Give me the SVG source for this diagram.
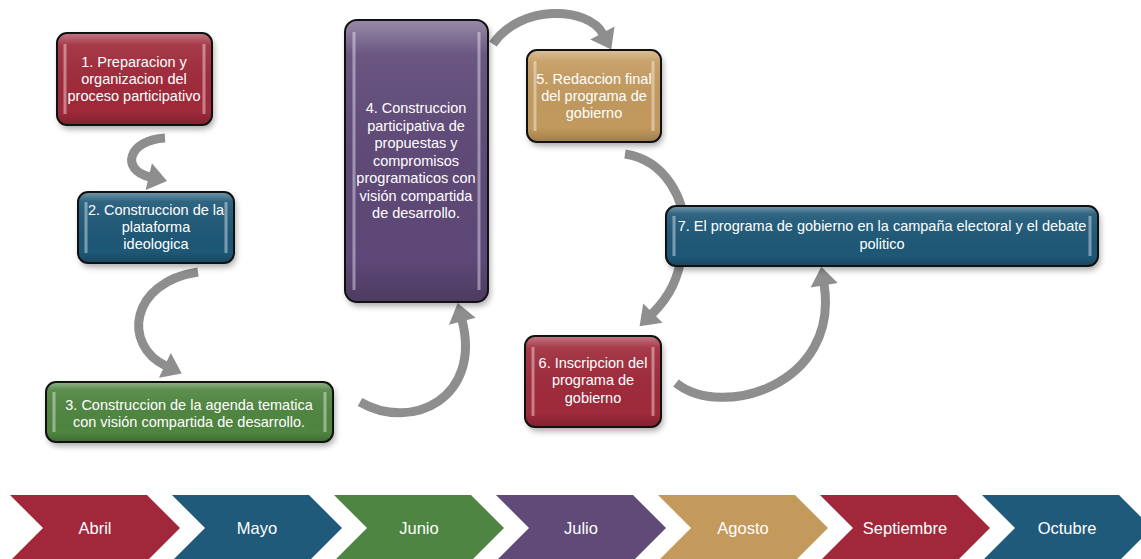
<svg xmlns="http://www.w3.org/2000/svg" width="1141" height="559" viewBox="0 0 1141 559">
<style>
text{font-family:"Liberation Sans",Arial,sans-serif;fill:#fff}
.lbl{font-size:14.5px}
.mon{font-size:16.5px}
.box{stroke:#111;stroke-width:2}
.gloss{fill:url(#gloss)}
.strip{fill:url(#strip)}
.arr{fill:none;stroke:#8E8E8E;stroke-width:9;marker-end:url(#ah)}
.shadow{fill:#000;opacity:0.35;filter:url(#blur)}
</style>
<defs>
<filter id="blur" x="-20%" y="-20%" width="140%" height="140%"><feGaussianBlur stdDeviation="3"/></filter>
<linearGradient id="gloss" x1="0" y1="0" x2="0" y2="1">
<stop offset="0" stop-color="#fff" stop-opacity="0.35"/>
<stop offset="0.12" stop-color="#fff" stop-opacity="0.08"/>
<stop offset="0.85" stop-color="#000" stop-opacity="0"/>
<stop offset="1" stop-color="#000" stop-opacity="0.18"/>
</linearGradient>
<linearGradient id="strip" x1="0" y1="0" x2="1" y2="0">
<stop offset="0" stop-color="#fff" stop-opacity="0.1"/>
<stop offset="0.5" stop-color="#fff" stop-opacity="0.5"/>
<stop offset="1" stop-color="#fff" stop-opacity="0.1"/>
</linearGradient>
<marker id="ah" markerUnits="userSpaceOnUse" markerWidth="30" markerHeight="30" viewBox="0 -12 16 24" refX="1" refY="0" orient="auto">
<path d="M0,-11 L15,0 L0,11 Z" fill="#8E8E8E"/>
</marker>
</defs>
<rect width="1141" height="559" fill="#fff"/>

<g id="connectors">
<path class="arr" d="M165,138 C128,140 120,170 150,177"/>
<path class="arr" d="M198,272 C130,282 122,345 166,366"/>
<path class="arr" d="M360,402 C412,432 482,398 462,320"/>
<path class="arr" d="M493,44 C520,4 588,6 603,34"/>
<path class="arr" d="M625,154 C665,160 688,200 684,240 C680,280 668,298 652,314"/>
<path class="arr" d="M676,383 C722,420 840,385 824,284"/>
</g>

<g id="n4">
<rect class="shadow" x="347" y="24" width="143" height="282" rx="12"/>
<rect class="box" x="345" y="20" width="143" height="282" rx="12" fill="#5E4877"/>
<rect class="gloss" x="346" y="21" width="141" height="280" rx="11"/>
<rect class="strip" x="352" y="32" width="4" height="258"/>
<rect class="strip" x="477" y="32" width="4" height="258"/>
<text class="lbl" text-anchor="middle"><tspan x="416" y="113">4. Construccion</tspan><tspan x="416" y="130.5">participativa de</tspan><tspan x="416" y="148">propuestas y</tspan><tspan x="416" y="165.5">compromisos</tspan><tspan x="416" y="183">programaticos con</tspan><tspan x="416" y="200.5">visión compartida</tspan><tspan x="416" y="218">de desarrollo.</tspan></text>
</g>

<g id="n1">
<rect class="shadow" x="59" y="37" width="155" height="92" rx="10"/>
<rect class="box" x="57" y="33" width="155" height="92" rx="10" fill="#9F2A3A"/>
<rect class="gloss" x="58" y="34" width="153" height="90" rx="9"/>
<rect class="strip" x="63" y="44" width="4" height="70"/>
<rect class="strip" x="202" y="44" width="4" height="70"/>
<text class="lbl" text-anchor="middle"><tspan x="134" y="67">1. Preparacion y</tspan><tspan x="134" y="84">organizacion del</tspan><tspan x="134" y="101">proceso participativo</tspan></text>
</g>

<g id="n2">
<rect class="shadow" x="80" y="196" width="156" height="71" rx="10"/>
<rect class="box" x="78" y="192" width="156" height="71" rx="10" fill="#1E5877"/>
<rect class="gloss" x="79" y="193" width="154" height="69" rx="9"/>
<rect class="strip" x="84" y="202" width="4" height="51"/>
<rect class="strip" x="224" y="202" width="4" height="51"/>
<text class="lbl" text-anchor="middle"><tspan x="156" y="215">2. Construccion de la</tspan><tspan x="156" y="232">plataforma</tspan><tspan x="156" y="249">ideologica</tspan></text>
</g>

<g id="n3">
<rect class="shadow" x="48" y="386" width="287" height="60" rx="10"/>
<rect class="box" x="46" y="382" width="287" height="60" rx="10" fill="#4F8540"/>
<rect class="gloss" x="47" y="383" width="285" height="58" rx="9"/>
<rect class="strip" x="52" y="392" width="4" height="40"/>
<rect class="strip" x="323" y="392" width="4" height="40"/>
<text class="lbl" text-anchor="middle"><tspan x="189" y="410">3. Construccion de la agenda tematica</tspan><tspan x="189" y="427">con visión compartida de desarrollo.</tspan></text>
</g>

<g id="n5">
<rect class="shadow" x="529" y="54" width="134" height="92" rx="10"/>
<rect class="box" x="527" y="50" width="134" height="92" rx="10" fill="#C39A5E"/>
<rect class="gloss" x="528" y="51" width="132" height="90" rx="9"/>
<text class="lbl" text-anchor="middle"><tspan x="594" y="84">5. Redaccion final</tspan><tspan x="594" y="101">del programa de</tspan><tspan x="594" y="118">gobierno</tspan></text>
<rect class="strip" x="533" y="61" width="4" height="70"/>
<rect class="strip" x="651" y="61" width="4" height="70"/>
</g>

<g id="n6">
<rect class="shadow" x="527" y="340" width="136" height="91" rx="10"/>
<rect class="box" x="525" y="336" width="136" height="91" rx="10" fill="#9F2A3A"/>
<rect class="gloss" x="526" y="337" width="134" height="89" rx="9"/>
<text class="lbl" text-anchor="middle"><tspan x="593" y="368">6. Inscripcion del</tspan><tspan x="593" y="385">programa de</tspan><tspan x="593" y="403">gobierno</tspan></text>
<rect class="strip" x="531" y="347" width="4" height="69"/>
<rect class="strip" x="651" y="347" width="4" height="69"/>
</g>

<g id="n7">
<rect class="shadow" x="668" y="210" width="432" height="60" rx="10"/>
<rect class="box" x="666" y="206" width="432" height="60" rx="10" fill="#1E5877"/>
<rect class="gloss" x="667" y="207" width="430" height="58" rx="9"/>
<text class="lbl" text-anchor="middle"><tspan x="882" y="231">7. El programa de gobierno en la campaña electoral y el debate</tspan><tspan x="882" y="249">politico</tspan></text>
<rect class="strip" x="672" y="216" width="4" height="40"/>
<rect class="strip" x="1088" y="216" width="4" height="40"/>
</g>

<g id="timeline">
<path d="M10,495 H147 L180,528 L147,561 H10 L43,528 Z" fill="#A0283A"/>
<path d="M172,495 H309 L342,528 L309,561 H172 L205,528 Z" fill="#1F5A7A"/>
<path d="M334,495 H471 L504,528 L471,561 H334 L367,528 Z" fill="#4E8542"/>
<path d="M496,495 H633 L666,528 L633,561 H496 L529,528 Z" fill="#5F4A78"/>
<path d="M658,495 H795 L828,528 L795,561 H658 L691,528 Z" fill="#C39A5B"/>
<path d="M820,495 H957 L990,528 L957,561 H820 L853,528 Z" fill="#A0283A"/>
<path d="M982,495 H1119 L1152,528 L1119,561 H982 L1015,528 Z" fill="#1F5A7A"/>
<text class="mon" text-anchor="middle" x="95" y="534">Abril</text>
<text class="mon" text-anchor="middle" x="257" y="534">Mayo</text>
<text class="mon" text-anchor="middle" x="419" y="534">Junio</text>
<text class="mon" text-anchor="middle" x="581" y="534">Julio</text>
<text class="mon" text-anchor="middle" x="743" y="534">Agosto</text>
<text class="mon" text-anchor="middle" x="905" y="534">Septiembre</text>
<text class="mon" text-anchor="middle" x="1067" y="534">Octubre</text>
</g>
</svg>
